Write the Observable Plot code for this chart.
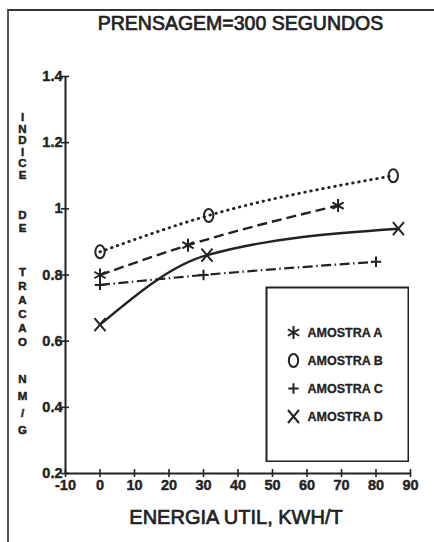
<!DOCTYPE html>
<html><head><meta charset="utf-8">
<script src="https://cdn.jsdelivr.net/npm/d3@7"></script>
<script src="https://cdn.jsdelivr.net/npm/@observablehq/plot@0.6"></script>
<style>
html,body{margin:0;padding:0;background:#fff;}
#chart{position:relative;width:434px;height:542px;overflow:hidden;background:#fff;}
#border{position:absolute;left:7px;top:9px;width:440px;height:550px;border-left:2px solid #555;border-top:2px solid #333;}
#legend{position:absolute;left:265px;top:286px;}
#main{position:absolute;left:0;top:0;}
</style></head><body>
<div id="chart"><div id="border"></div><div id="main"></div><div id="legend"></div></div>
<script>
// ---- data ----
const title = "PRENSAGEM=300 SEGUNDOS";
const xLabel = "ENERGIA UTIL, KWH/T";
const yLabelWords = ["INDICE", "DE", "TRACAO", "NM/G"];
const xTicks = [-10, 0, 10, 20, 30, 40, 50, 60, 70, 80, 90];
const yTicks = [0.2, 0.4, 0.6, 0.8, 1, 1.2, 1.4];
const seriesNames = ["AMOSTRA A", "AMOSTRA B", "AMOSTRA C", "AMOSTRA D"];
const energyA = [0, 25.5, 69];   const indexA = [0.80, 0.89, 1.01];
const energyB = [0, 31.5, 85];   const indexB = [0.87, 0.98, 1.10];
const energyC = [0, 30, 80];     const indexC = [0.77, 0.80, 0.84];
const energyD = [0, 31, 86.5];   const indexD = [0.65, 0.86, 0.94];

// ---- symbols ----
const sym = (f) => ({draw(c, size) { f(c, Math.sqrt(size / Math.PI)); }});
const symAsterisk = sym((c, r) => {
  for (const a of [90, 30, -30]) {
    const t = a * Math.PI / 180, dx = r * Math.cos(t), dy = r * Math.sin(t);
    c.moveTo(dx, -dy); c.lineTo(-dx, dy);
  }
});
const symOval = sym((c, r) => {
  const rx = 0.72 * r, ry = r, k = 0.5523;
  c.moveTo(0, -ry);
  c.bezierCurveTo(k * rx, -ry, rx, -k * ry, rx, 0);
  c.bezierCurveTo(rx, k * ry, k * rx, ry, 0, ry);
  c.bezierCurveTo(-k * rx, ry, -rx, k * ry, -rx, 0);
  c.bezierCurveTo(-rx, -k * ry, -k * rx, -ry, 0, -ry);
  c.closePath();
});
const symPlus = sym((c, r) => { const a = 0.8 * r; c.moveTo(-a, 0); c.lineTo(a, 0); c.moveTo(0, -a); c.lineTo(0, a); });
const symTimes = sym((c, r) => { const ax = 0.85 * r, ay = r; c.moveTo(-ax, -ay); c.lineTo(ax, ay); c.moveTo(ax, -ay); c.lineTo(-ax, ay); });

const ink = "#222";
const series = [
  {name: seriesNames[0], xs: energyA, ys: indexA, symbol: symAsterisk, dash: "10 5", cap: "butt", w: 2.4},
  {name: seriesNames[1], xs: energyB, ys: indexB, symbol: symOval, dash: "0.5 5.6", cap: "round", w: 2.9},
  {name: seriesNames[2], xs: energyC, ys: indexC, symbol: symPlus, dash: "10 3.5 1.5 3.5", cap: "butt", w: 2.2},
  {name: seriesNames[3], xs: energyD, ys: indexD, symbol: symTimes, dash: null, cap: "butt", w: 2.4}
];
const rowsOf = (s) => s.xs.map((x, i) => ({name: s.name, energy: x, index: s.ys[i]}));

const frameTop = 76, frameBottom = 473, frameLeft = 65;
const frameMidY = (frameTop + frameBottom) / 2;
const wordLayout = [ // center y, letter spacing (px)
  [146, 11.5], [221, 12.5], [306, 14], [403, 17]
];
const labelFont = 11.5;
const font = "'Liberation Sans', Arial, sans-serif";

const marks = [
  Plot.ruleX([-10], {stroke: ink, strokeWidth: 2}),
  Plot.ruleY([0.2], {stroke: ink, strokeWidth: 2}),
  Plot.axisX(xTicks, {tickSize: 8, dy: -4, fill: "none", stroke: ink, strokeWidth: 1.6, label: null}),
  Plot.axisY(yTicks, {tickSize: 8, dx: 4, fill: "none", stroke: ink, strokeWidth: 1.6, label: null}),
  Plot.text(xTicks, {x: (d) => d, text: (d) => String(d), frameAnchor: "bottom", dy: 12, lineAnchor: "middle",
    fontSize: 14.5, fontWeight: "bold", fill: ink, stroke: ink, strokeWidth: 0.4}),
  Plot.text(yTicks, {y: (d) => d, text: d3.format("~g"), frameAnchor: "left", dx: -3, dy: 0, textAnchor: "end", lineAnchor: "middle",
    fontSize: 14.5, fontWeight: "bold", fill: ink, stroke: ink, strokeWidth: 0.4})
];
for (const s of series) {
  marks.push(Plot.line(rowsOf(s), {x: "energy", y: "index", curve: "monotone-x", stroke: ink, strokeWidth: s.w,
    strokeDasharray: s.dash, strokeLinecap: s.cap}));
  marks.push(Plot.dot(rowsOf(s), {x: "energy", y: "index", symbol: s.symbol, r: 6.5, fill: "none", stroke: ink, strokeWidth: 2}));
}
marks.push(Plot.text([title], {frameAnchor: "top", dy: 23 - frameTop, dx: 2.5, lineAnchor: "middle", fontSize: 19.5,
  fill: ink, stroke: ink, strokeWidth: 0.7}));
marks.push(Plot.text([xLabel], {frameAnchor: "bottom", dy: 517.5 - frameBottom, dx: -2, lineAnchor: "middle", fontSize: 20,
  fill: ink, stroke: ink, strokeWidth: 0.7}));
yLabelWords.forEach((w, i) => {
  const [cy, sp] = wordLayout[i];
  marks.push(Plot.text([w.split("").join("\n")], {frameAnchor: "left", dx: 22 - frameLeft, dy: cy - frameMidY,
    textAnchor: "middle", lineAnchor: "middle", lineHeight: sp / labelFont, fontSize: labelFont, fontWeight: "bold",
    fill: ink, stroke: ink, strokeWidth: 0.5}));
});

const plot = Plot.plot({
  width: 434, height: 542,
  marginLeft: frameLeft, marginRight: 24, marginTop: frameTop, marginBottom: 542 - frameBottom,
  style: {fontFamily: font, background: "transparent", color: ink},
  x: {domain: [-10, 90], axis: null},
  y: {domain: [0.2, 1.4], axis: null},
  marks
});
document.getElementById("main").append(plot);

// ---- legend ----
const legendMarks = [Plot.frame({stroke: ink, strokeWidth: 2, inset: 1})];
for (const s of series) {
  legendMarks.push(Plot.dot([s.name], {y: (d) => d, frameAnchor: "left", dx: 28, symbol: s.symbol, r: 6.5, fill: "none", stroke: ink, strokeWidth: 2}));
}
legendMarks.push(Plot.text(seriesNames, {y: (d) => d, text: (d) => d, frameAnchor: "left", dx: 42, textAnchor: "start",
  fontSize: 12.5, fontWeight: "bold", fill: ink, stroke: ink, strokeWidth: 0.3}));
const legend = Plot.plot({
  width: 144, height: 176, margin: 0,
  style: {fontFamily: font, background: "transparent", color: ink},
  y: {type: "point", domain: seriesNames, range: [31, 145], axis: null},
  marks: legendMarks
});
document.getElementById("legend").append(legend);
</script>
</body></html>
